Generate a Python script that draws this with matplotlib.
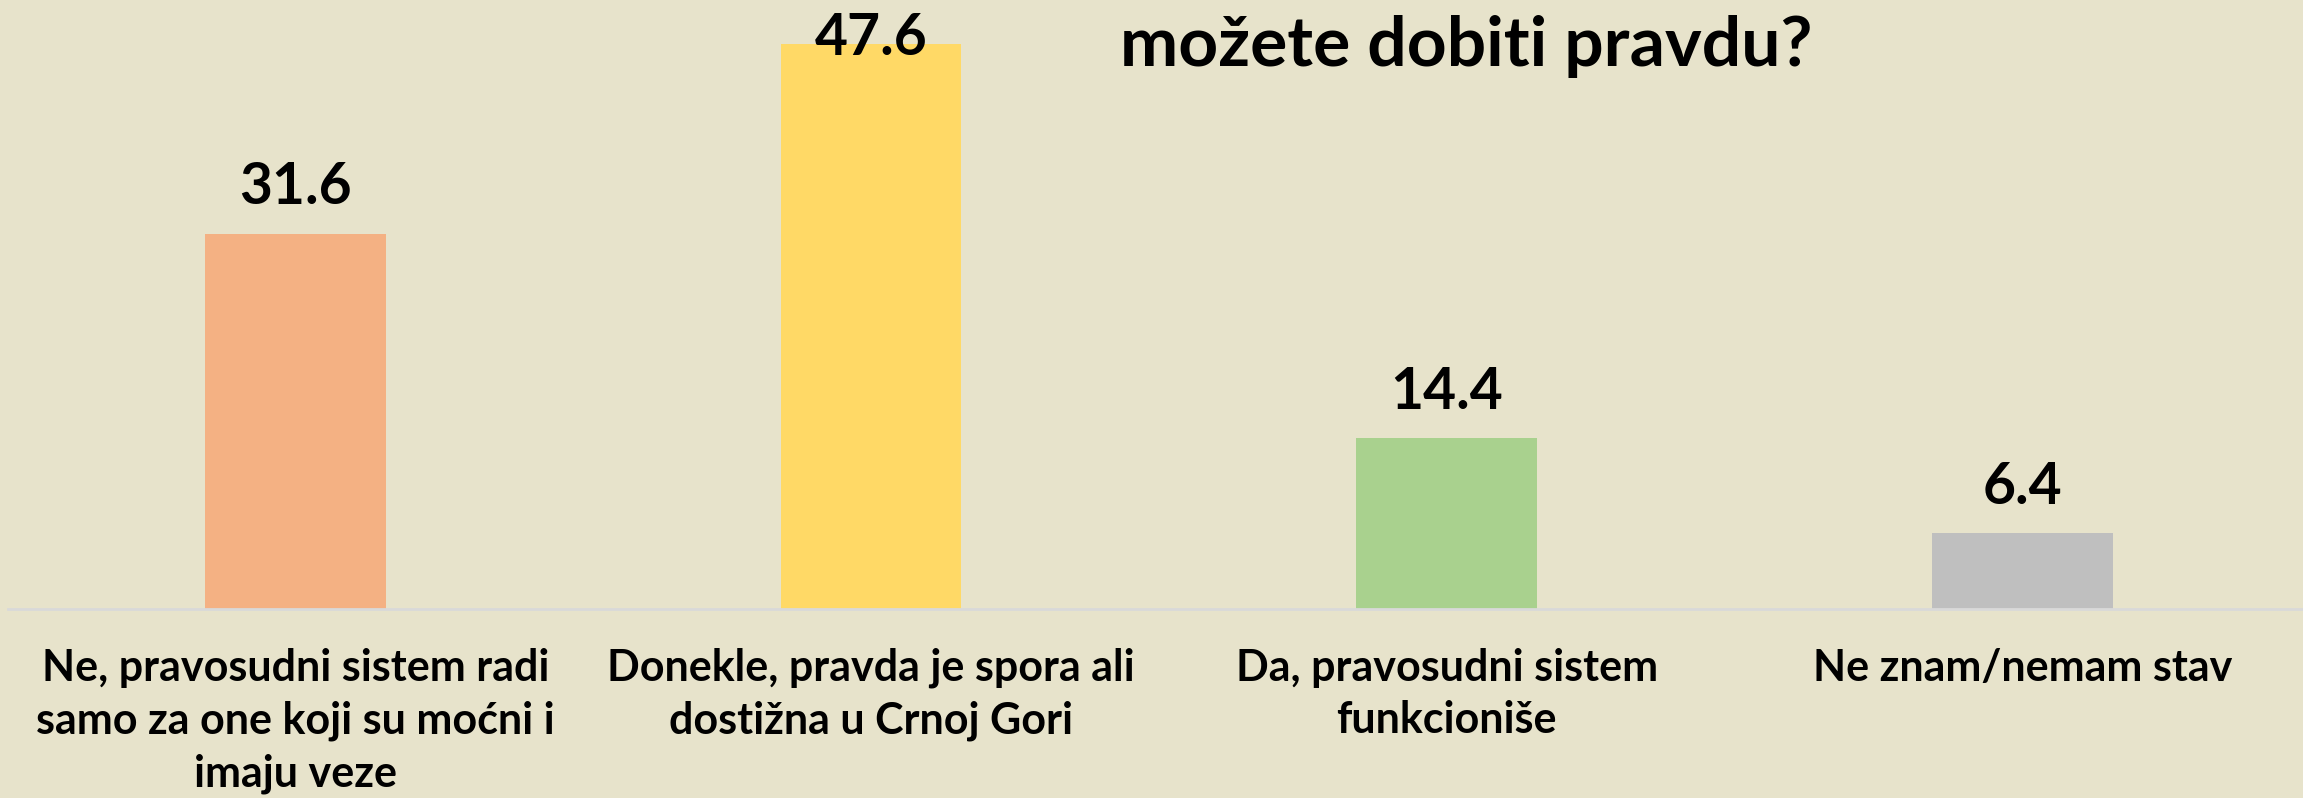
import numpy as np
import matplotlib.pyplot as plt

# Survey answers and shares (%)
categories = [
    "Ne, pravosudni sistem radi\nsamo za one koji su moćni i\nimaju veze",
    "Donekle, pravda je spora ali\ndostižna u Crnoj Gori",
    "Da, pravosudni sistem\nfunkcioniše",
    "Ne znam/nemam stav",
]
values = [31.6, 47.6, 14.4, 6.4]
colors = ["#f4b183", "#ffd966", "#a9d18e", "#bfbfbf"]
title_text = "možete dobiti pravdu?"

bg = "#e7e3cb"
plt.rcParams['font.family'] = ['Lato', 'DejaVu Sans']

fig = plt.figure(figsize=(23.03, 7.98), dpi=100, facecolor=bg)
ax = fig.add_axes([0.00334, 0.2368, 0.9997, 0.7444])
ax.set_facecolor(bg)

x = np.arange(len(values))
bars = ax.bar(x, values, width=0.314, color=colors, zorder=2)

for rect, v in zip(bars, values):
    # tallest label gets pushed down into the bar, like the original
    off = 21 if v < 45 else -8
    ax.annotate(f"{v:.1f}", (rect.get_x() + rect.get_width() / 2, v),
                xytext=(0, off), textcoords="offset points",
                ha="center", va="baseline", fontsize=41, fontweight="bold",
                zorder=4)

ax.set_xlim(-0.5, len(values) - 0.5)
ax.set_ylim(0, 50)
ax.set_xticks(x)
ax.set_xticklabels(categories, fontsize=31, fontweight="bold", linespacing=1.38)
ax.tick_params(axis="x", length=0, pad=28)
ax.set_yticks([])
for side in ["top", "right", "left"]:
    ax.spines[side].set_visible(False)
ax.spines["bottom"].set_color("#d9d9d9")
ax.spines["bottom"].set_linewidth(2)
ax.spines["bottom"].set_zorder(3)

fig.text(0.6365, 1 - 66 / 798, title_text, ha="center", va="baseline",
         fontsize=50, fontweight="bold")

fig.savefig("out.png", dpi=100, facecolor=bg)
